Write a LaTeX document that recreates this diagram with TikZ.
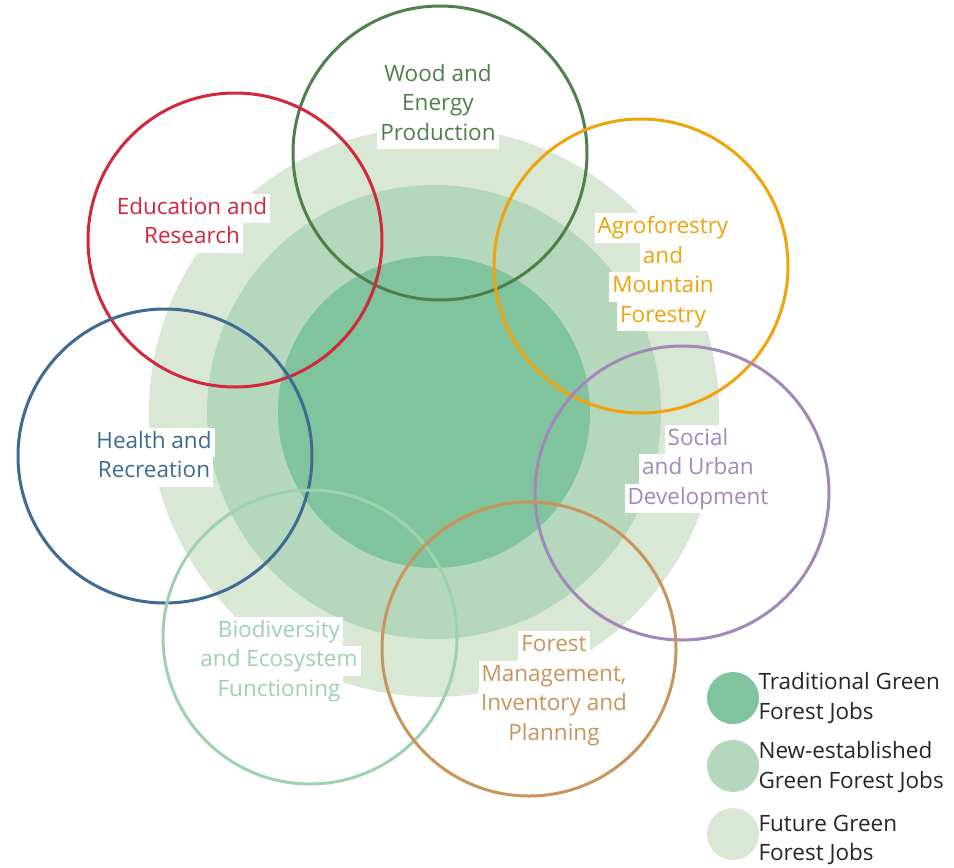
\documentclass[tikz,border=0pt]{standalone}
\usepackage{fontspec}
\setmainfont{Open Sans}
\definecolor{tradgreen}{HTML}{80C49D}
\definecolor{newgreen}{HTML}{B5D8BD}
\definecolor{futgreen}{HTML}{D8E8D5}
\definecolor{woodc}{HTML}{4F7F4B}
\definecolor{educ}{HTML}{D2273C}
\definecolor{agroc}{HTML}{F0A30A}
\definecolor{socc}{HTML}{A487BA}
\definecolor{healc}{HTML}{3E6A94}
\definecolor{bioc}{HTML}{9ED2AD}
\definecolor{forc}{HTML}{C8955A}
% white box behind each line of a label
\newcommand\whl[1]{{\setlength\fboxsep{0pt}\colorbox{white}{\strut\hspace{3pt}#1\hspace{3pt}}}}
\tikzset{
  field/.style={line width=3pt},
  lbl/.style={align=center, font=\fontsize{22.5}{29.5}\selectfont},
  leg/.style={align=left, anchor=west, text=black!85, font=\fontsize{22.5}{29.5}\selectfont}
}
\begin{document}
\begin{tikzpicture}[x=1pt,y=-1pt]
  \useasboundingbox (0,0) rectangle (954,868);

  \fill[futgreen]  (434,412) circle (285pt);
  \fill[newgreen]  (434,412) circle (227pt);
  \fill[tradgreen] (434,412) circle (156pt);

  \draw[field, color=woodc] (440,153) circle (147pt);
  \draw[field, color=educ]  (235,240) circle (147pt);
  \draw[field, color=agroc] (641,266) circle (147pt);
  \draw[field, color=socc]  (682,493) circle (147pt);
  \draw[field, color=healc] (165,456) circle (147pt);
  \draw[field, color=bioc]  (310,637) circle (147pt);
  \draw[field, color=forc]  (529,649) circle (147pt);

  \node[lbl, text=woodc] (wood) at (438,105) {\whl{Wood and}\\\whl{Energy}\\\whl{Production}};
  \node[lbl, text=educ]  (edu)  at (192,223) {\whl{Education and}\\\whl{Research}};
  \node[lbl, text=agroc] (agro) at (663,272) {\whl{Agroforestry}\\\whl{and}\\\whl{Mountain}\\\whl{Forestry}};
  \node[lbl, text=socc]  (soc)  at (698,469) {\whl{Social}\\\whl{and Urban}\\\whl{Development}};
  \node[lbl, text=healc] (heal) at (154,457) {\whl{Health and}\\\whl{Recreation}};
  \node[lbl, text=bioc]  (bio)  at (279,661) {\whl{Biodiversity}\\\whl{and Ecosystem}\\\whl{Functioning}};
  \node[lbl, text=forc]  (for)  at (554,690) {\whl{Forest}\\\whl{Management,}\\\whl{Inventory and}\\\whl{Planning}};

  % legend
  \fill[tradgreen] (733,698) circle (26pt);
  \fill[newgreen]  (733,766) circle (26pt);
  \fill[futgreen]  (733,834) circle (26pt);
  \node[leg] (trad) at (755,698) {Traditional Green\\Forest Jobs};
  \node[leg] (new)  at (755,767) {New-established\\Green Forest Jobs};
  \node[leg] (fut)  at (755,840) {Future Green\\Forest Jobs};
\end{tikzpicture}
\end{document}
